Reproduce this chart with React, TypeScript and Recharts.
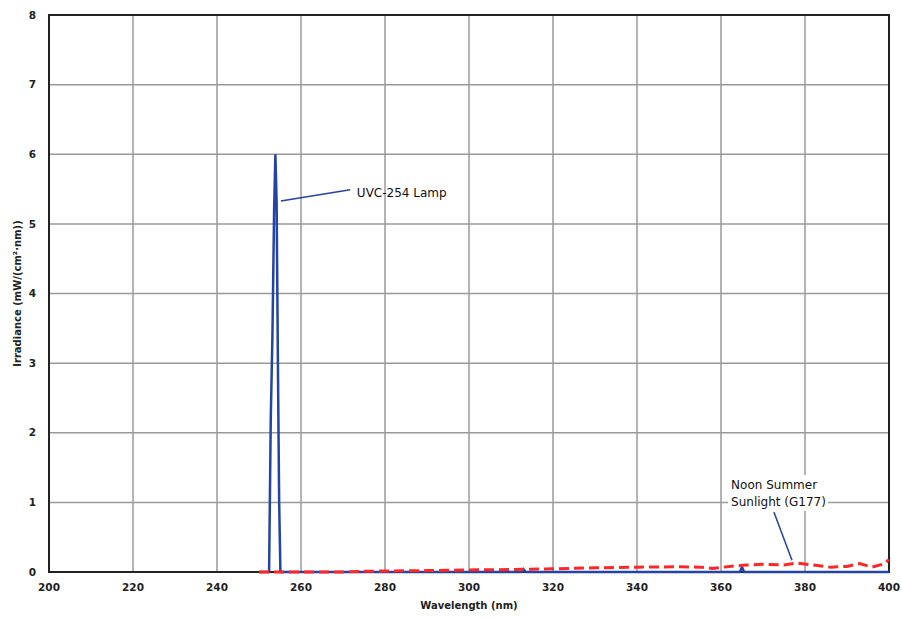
import React from "react";
import {
  LineChart,
  Line,
  XAxis,
  YAxis,
  CartesianGrid,
  ReferenceLine,
  ReferenceDot,
  ReferenceArea,
} from "recharts";

// wavelength (nm) / irradiance (mW/(cm²·nm))
const lampNm = [250, 252.4, 252.8, 253.2, 253.6, 253.9, 254.2, 254.5, 254.8, 255.1, 312.5, 313, 313.5, 364.5, 365, 365.5, 400];
const lampVal = [0, 0, 2.2, 3.4, 5.2, 6.0, 5.3, 3.0, 1.0, 0, 0, 0.04, 0, 0, 0.07, 0, 0];

const sunNm = [250, 270, 275, 280, 290, 300, 310, 320, 330, 340, 350, 355, 358, 362, 366, 370, 375, 378, 382, 386, 390, 393, 396, 399, 400];
const sunVal = [0, 0, 0.01, 0.015, 0.02, 0.03, 0.035, 0.045, 0.06, 0.07, 0.075, 0.07, 0.05, 0.08, 0.1, 0.11, 0.1, 0.13, 0.1, 0.07, 0.08, 0.12, 0.07, 0.12, 0.18];

const xTicks = [200, 220, 240, 260, 280, 300, 320, 340, 360, 380, 400];
const yTicks = [0, 1, 2, 3, 4, 5, 6, 7, 8];

const lampData = lampNm.map((x, i) => ({ x, y: lampVal[i] }));
const sunData = sunNm.map((x, i) => ({ x, y: sunVal[i] }));

const FONT = "'DejaVu Sans', Verdana, sans-serif";
const BLUE = "#2344a6";
const RED = "#ff2626";

const lampLabel = (props: any) => {
  const { x, y } = props.viewBox;
  return (
    <text x={x} y={y} dy="0.35em" fontSize={12} fontFamily={FONT} fill="#111">
      UVC-254 Lamp
    </text>
  );
};

const sunLabel = (props: any) => {
  const { x, y } = props.viewBox;
  return (
    <g>
      <rect x={x - 3} y={y - 10} width={100} height={36} fill="#fff" />
      <text x={x} y={y} dy="0.35em" fontSize={12} fontFamily={FONT} fill="#111">
        Noon Summer
      </text>
      <text x={x} y={y + 17} dy="0.35em" fontSize={12} fontFamily={FONT} fill="#111">
        Sunlight (G177)
      </text>
    </g>
  );
};

const tickStyle = { fontSize: 10.5, fill: "#222", fontFamily: FONT, fontWeight: 700 };

export default function App() {
  return (
    <div style={{ position: "absolute", left: 0, top: 0, background: "#fff" }}>
      <LineChart
        width={902}
        height={619}
        margin={{ top: 15, right: 13, left: 19, bottom: 17 }}
      >
        <CartesianGrid stroke="#9a9a9a" strokeWidth={1.5} />
        <XAxis
          dataKey="x"
          type="number"
          domain={[200, 400]}
          ticks={xTicks}
          height={30}
          tickLine={false}
          tickSize={0}
          tickMargin={12}
          axisLine={false}
          tick={tickStyle}
          label={{
            value: "Wavelength (nm)",
            position: "bottom",
            offset: 0,
            fontSize: 10,
            fill: "#222",
            fontFamily: FONT,
            fontWeight: 700,
          }}
        />
        <YAxis
          type="number"
          domain={[0, 8]}
          ticks={yTicks}
          width={30}
          tickLine={false}
          tickSize={0}
          tickMargin={13}
          axisLine={false}
          tick={tickStyle}
          label={{
            value: "Irradiance (mW/(cm²·nm))",
            angle: -90,
            position: "center",
            dx: -17,
            fontSize: 10,
            fill: "#222",
            fontFamily: FONT,
            fontWeight: 700,
          }}
        />
        <ReferenceArea
          x1={200}
          x2={400}
          y1={0}
          y2={8}
          fill="none"
          stroke="#222"
          strokeWidth={2}
        />
        <Line
          data={lampData}
          dataKey="y"
          stroke={BLUE}
          strokeWidth={2.5}
          dot={false}
          isAnimationActive={false}
        />
        <Line
          data={sunData}
          dataKey="y"
          stroke={RED}
          strokeWidth={3}
          strokeDasharray="10 5"
          dot={false}
          isAnimationActive={false}
        />
        <ReferenceLine
          segment={[
            { x: 255.2, y: 5.33 },
            { x: 271.7, y: 5.49 },
          ]}
          stroke={BLUE}
          strokeWidth={1.5}
        />
        <ReferenceLine
          segment={[
            { x: 372.6, y: 0.86 },
            { x: 376.9, y: 0.17 },
          ]}
          stroke={BLUE}
          strokeWidth={1.5}
        />
        <ReferenceDot x={273.3} y={5.45} r={0} fill="none" stroke="none" label={lampLabel} />
        <ReferenceDot x={362.4} y={1.25} r={0} fill="none" stroke="none" label={sunLabel} />
      </LineChart>
    </div>
  );
}
